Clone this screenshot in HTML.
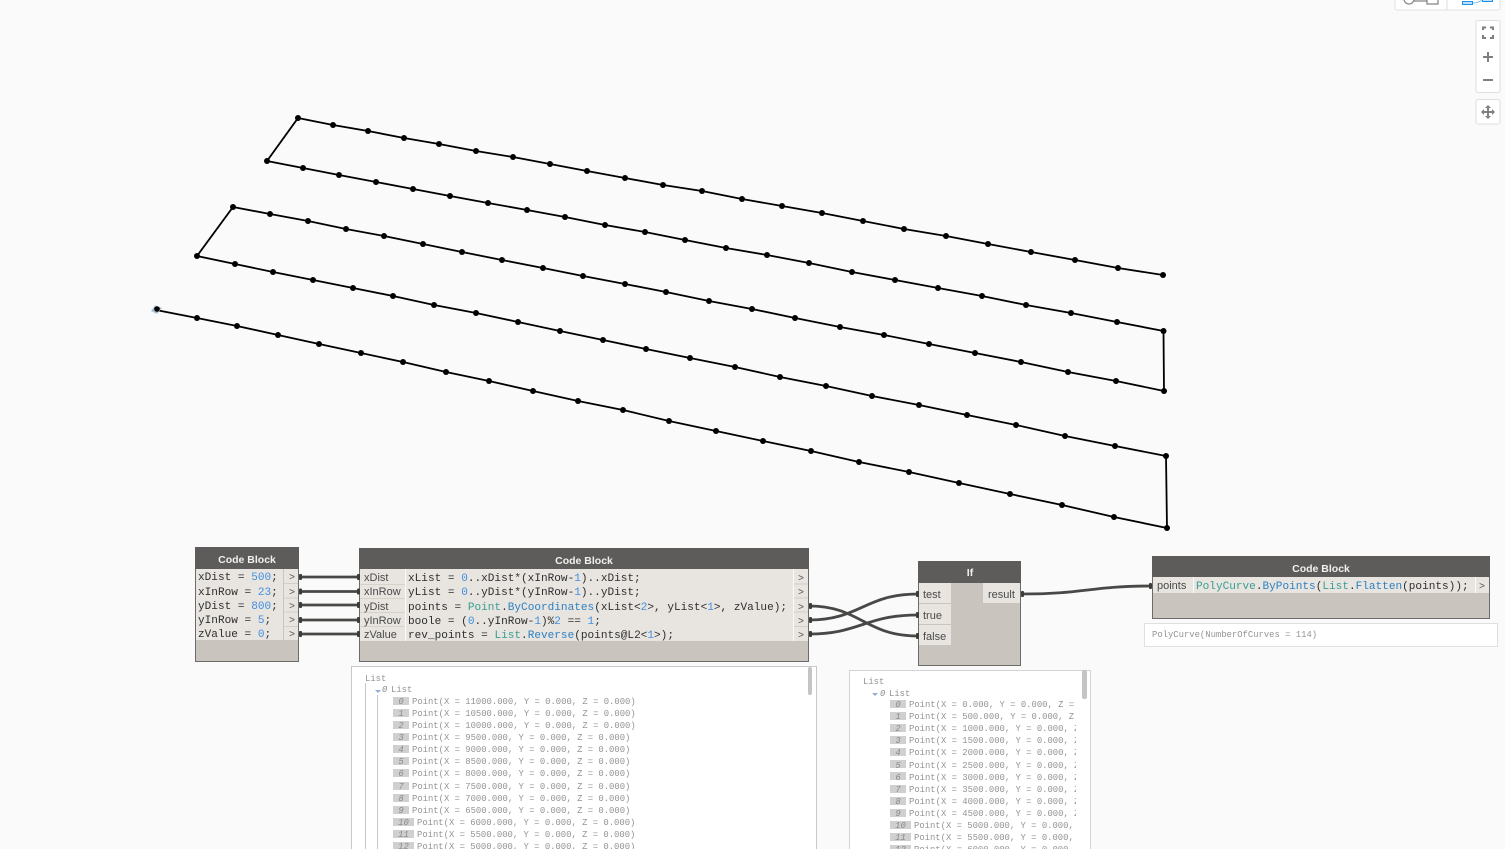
<!DOCTYPE html>
<html>
<head>
<meta charset="utf-8">
<style>
html,body{margin:0;padding:0;background:#fafafa;overflow:hidden}
svg{display:block;position:absolute;left:0;top:0}
.code{font-family:"Liberation Mono",monospace;font-size:11.08px;fill:#2e2e2e}
.num{fill:#3f8fe0}
.cls{fill:#3b9c90}
.port{font-family:"Liberation Sans",sans-serif;font-size:11px;fill:#4a4a4a}
.title{font-family:"Liberation Sans",sans-serif;font-size:10.5px;font-weight:bold;fill:#f0f0f0;text-anchor:middle}
.arrow{font-family:"Liberation Mono",monospace;font-size:10px;fill:#555;text-anchor:middle}
.pv{font-family:"Liberation Mono",monospace;font-size:8.88px;fill:#949494}
.idx{font-family:"Liberation Mono",monospace;font-size:8.88px;font-style:italic;fill:#8a8a8a}
.box{fill:#d0d0d0}
.wire{fill:none;stroke:#484846;stroke-width:2.8}
.nub{fill:#3c3c3a}
</style>
</head>
<body>
<svg width="1505" height="849" viewBox="0 0 1505 849" xmlns="http://www.w3.org/2000/svg">
<defs>
<marker id="d" markerUnits="userSpaceOnUse" markerWidth="8" markerHeight="8" refX="4" refY="4"><circle cx="4" cy="4" r="3" fill="#000"/></marker>
<clipPath id="c1"><rect x="353" y="667" width="463" height="182"/></clipPath>
<clipPath id="c2"><rect x="851" y="671" width="225" height="178"/></clipPath>
</defs>
<rect width="1505" height="849" fill="#fafafa"/>

<polyline fill="none" stroke="#000" stroke-width="1.8" marker-start="url(#d)" marker-mid="url(#d)" marker-end="url(#d)" points="1163,275 1118,268 1075,260 1031,252 988,244 946,236 904,229 863,221 822,213 782,206 742,199 702,191 663,185 625,178 587,171 550,164 513,157 476,151 439,144 404,138 368,131 333,125 298,118 267,161 303,168 339,175 376,182 413,189 450,196 488,203 527,210 565,217 605,225 645,232 685,240 726,248 767,255 809,263 852,272 895,280 938,288 982,296 1026,305 1071,313 1117,322 1163.500,331 1164,391 1116,381 1068,372 1021,362 975,353 929,344 884,335 840,327 795,318 752,309 709,301 666,292 625,284 583,276 543,268 502,260 462,252 423,244 384,236 346,229 308,221 270,214 233,207 197,256 235,264 273,272 313,280 353,288 393,296 434,305 476,313 518,322 560,331 603,340 646,349 690,358 735,367 780,377 826,386 872,396 919,405 967,415 1016,425 1065,436 1115,446 1166,456 1167,528 1114,517 1062,505 1010,494 959,483 909,472 859,462 811,451 763,441 716,431 669,421 623,410 578,401 533,391 489,381 446,372 403,362 361,353 319,344 278,335 237,326 197,318 156,310"/>
<path d="M151 311 L155 305.500 L162 308 L157 314 Z" fill="#a9bfcf"/>
<circle cx="157" cy="309" r="2.8" fill="#000"/>

<!-- toolbar -->
<rect x="1395" y="-4" width="105" height="14" rx="2" fill="#fff" stroke="#e2e2e2"/>
<line x1="1447" y1="0" x2="1447" y2="10" stroke="#ddd"/>
<circle cx="1409" cy="-1" r="5" fill="none" stroke="#888" stroke-width="1.3"/>
<line x1="1414" y1="1" x2="1427" y2="1" stroke="#888" stroke-width="1.3"/>
<rect x="1427" y="-4" width="11" height="8" fill="none" stroke="#888" stroke-width="1.3"/>
<rect x="1462.500" y="1.500" width="10" height="3" fill="#bfe0fb" stroke="#1e90e8"/>
<rect x="1482.500" y="-4" width="10" height="5.500" fill="#bfe0fb" stroke="#1e90e8"/>
<path d="M1473 3 Q1478 3 1482 0" fill="none" stroke="#7fc0f0"/>
<rect x="1476" y="20.500" width="24" height="72" rx="2" fill="#fff" stroke="#dedede"/>
<rect x="1476" y="99.500" width="24" height="24.500" rx="2" fill="#fff" stroke="#dedede"/>
<path d="M1483 30V27.500H1486M1490 27.500H1493V30M1493 35V38H1490M1486 38H1483V35" fill="none" stroke="#808080" stroke-width="2"/>
<path d="M1483 57H1493M1488 52V62" stroke="#808080" stroke-width="2"/>
<path d="M1483 80H1493" stroke="#808080" stroke-width="2"/>
<path d="M1488 106V118M1482 112H1494" stroke="#808080" stroke-width="2"/>
<path d="M1488 105l-3 3h6zM1488 119l-3-3h6zM1481 112l3-3v6zM1495 112l-3-3v6z" fill="#808080"/>

<!-- wires -->
<g class="wire">
<path d="M300 577H359"/><path d="M300 591.500H359"/><path d="M300 605H359"/><path d="M300 620H359"/><path d="M300 634H359"/>
<path d="M809 606C860 606 865 636 918 636"/>
<path d="M809 620C860 620 865 594 918 594"/>
<path d="M809 634C860 634 865 615 918 615"/>
<path d="M1022 594C1085 594 1090 586 1152 586"/>
</g>

<!-- node 1 -->
<rect x="195.500" y="547.500" width="103" height="114" fill="#c9c5be" stroke="#6c6b67"/>
<rect x="195" y="547" width="104" height="22" fill="#5e5c5a"/>
<rect x="196" y="569" width="87" height="71" fill="#e8e5e1"/>
<rect x="284" y="569" width="14" height="71" fill="#e8e5e1"/>
<path d="M284 583.500H298M284 598H298M284 612H298M284 626.500H298" stroke="#d2cfc9"/>
<text class="title" x="247" y="563">Code Block</text>
<text class="code" x="198" y="580">xDist = <tspan class="num">500</tspan>;</text>
<text class="code" x="198" y="595">xInRow = <tspan class="num">23</tspan>;</text>
<text class="code" x="198" y="609">yDist = <tspan class="num">800</tspan>;</text>
<text class="code" x="198" y="623">yInRow = <tspan class="num">5</tspan>;</text>
<text class="code" x="198" y="637">zValue = <tspan class="num">0</tspan>;</text>
<g class="arrow"><text x="292" y="580">&gt;</text><text x="292" y="595">&gt;</text><text x="292" y="609">&gt;</text><text x="292" y="623">&gt;</text><text x="292" y="637">&gt;</text></g>
<g class="nub"><rect x="299" y="574" width="3" height="6" rx="1"/><rect x="299" y="588.500" width="3" height="6" rx="1"/><rect x="299" y="602" width="3" height="6" rx="1"/><rect x="299" y="617" width="3" height="6" rx="1"/><rect x="299" y="631" width="3" height="6" rx="1"/></g>

<!-- node 2 -->
<rect x="359.500" y="548.500" width="449" height="113" fill="#c9c5be" stroke="#6c6b67"/>
<rect x="359" y="548" width="450" height="21" fill="#5e5c5a"/>
<rect x="360" y="569" width="448" height="72" fill="#e8e5e1"/>
<path d="M360 584.500H405M360 598.500H405M360 612.500H405M360 626.500H405" stroke="#d5d2cc"/>
<path d="M405.500 569V641M793.500 569V641" stroke="#fafafa"/>
<path d="M794 584H808M794 598H808M794 612H808M794 626.500H808" stroke="#d2cfc9"/>
<text class="title" x="584" y="564">Code Block</text>
<g class="port" style="fill:#555">
<text class="port" x="364" y="581">xDist</text>
<text class="port" x="364" y="595">xInRow</text>
<text class="port" x="364" y="610">yDist</text>
<text class="port" x="364" y="624">yInRow</text>
<text class="port" x="364" y="638">zValue</text>
</g>
<text class="code" x="408" y="581">xList = <tspan class="num">0</tspan>..xDist*(xInRow-<tspan class="num">1</tspan>)..xDist;</text>
<text class="code" x="408" y="595">yList = <tspan class="num">0</tspan>..yDist*(yInRow-<tspan class="num">1</tspan>)..yDist;</text>
<text class="code" x="408" y="610">points = <tspan class="cls">Point</tspan>.<tspan fill="#2d7fc0">ByCoordinates</tspan>(xList&lt;<tspan class="num">2</tspan>&gt;, yList&lt;<tspan class="num">1</tspan>&gt;, zValue);</text>
<text class="code" x="408" y="624">boole = (<tspan class="num">0</tspan>..yInRow-<tspan class="num">1</tspan>)%<tspan class="num">2</tspan> == <tspan class="num">1</tspan>;</text>
<text class="code" x="408" y="638">rev_points = <tspan class="cls">List</tspan>.<tspan fill="#2d7fc0">Reverse</tspan>(points@L2&lt;<tspan class="num">1</tspan>&gt;);</text>
<g class="arrow"><text x="801" y="581">&gt;</text><text x="801" y="595">&gt;</text><text x="801" y="610">&gt;</text><text x="801" y="624">&gt;</text><text x="801" y="638">&gt;</text></g>
<g class="nub"><rect x="357" y="574" width="3" height="6" rx="1"/><rect x="357" y="588.500" width="3" height="6" rx="1"/><rect x="357" y="602" width="3" height="6" rx="1"/><rect x="357" y="617" width="3" height="6" rx="1"/><rect x="357" y="631" width="3" height="6" rx="1"/><rect x="809" y="603" width="3" height="6" rx="1"/><rect x="809" y="617" width="3" height="6" rx="1"/><rect x="809" y="631" width="3" height="6" rx="1"/></g>

<!-- If -->
<rect x="918.500" y="561.500" width="102" height="104" fill="#c9c5be" stroke="#6c6b67"/>
<rect x="918" y="561" width="103" height="22" fill="#5e5c5a"/>
<rect x="919" y="583" width="32" height="20" fill="#e8e5e1"/>
<rect x="919" y="604" width="32" height="20" fill="#e8e5e1"/>
<rect x="919" y="625" width="32" height="20" fill="#e8e5e1"/>
<rect x="983" y="583" width="37" height="20" fill="#e8e5e1"/>
<text class="title" x="970" y="576">If</text>
<text class="port" x="923" y="598">test</text>
<text class="port" x="923" y="619">true</text>
<text class="port" x="923" y="640">false</text>
<text class="port" x="988" y="598">result</text>
<g class="nub"><rect x="916" y="591" width="3" height="6" rx="1"/><rect x="916" y="612" width="3" height="6" rx="1"/><rect x="916" y="633" width="3" height="6" rx="1"/><rect x="1021" y="591" width="3" height="6" rx="1"/></g>

<!-- node 3 -->
<rect x="1152.500" y="556.500" width="337" height="62" fill="#c9c5be" stroke="#6c6b67"/>
<rect x="1152" y="556" width="338" height="21" fill="#5e5c5a"/>
<rect x="1153" y="577" width="336" height="16" fill="#e8e5e1"/>
<path d="M1193.500 577V593M1475.500 577V593" stroke="#fafafa"/>
<text class="title" x="1321" y="572">Code Block</text>
<text class="port" x="1157" y="589">points</text>
<text class="code" x="1196" y="589"><tspan class="cls">PolyCurve</tspan>.<tspan fill="#2d7fc0">ByPoints</tspan>(<tspan class="cls">List</tspan>.<tspan fill="#2d7fc0">Flatten</tspan>(points));</text>
<text class="arrow" x="1482" y="589">&gt;</text>
<rect class="nub" x="1149" y="583" width="3" height="6" rx="1"/>

<!-- preview 3 -->
<rect x="1144.500" y="623.500" width="353" height="23" fill="#fff" stroke="#e0e0e0"/>
<text class="pv" x="1152" y="637">PolyCurve(NumberOfCurves = 114)</text>

<!-- list 1 -->
<rect x="351.500" y="666.500" width="465" height="200" fill="#fff" stroke="#c8c8c8"/>
<rect x="808" y="667" width="4" height="28" rx="2" fill="#c4c4c4"/>
<path d="M365.500 683V849M377.500 695V849" stroke="#c8c8c8"/>
<path d="M375 690h6l-3 3z" fill="#8fb0d0"/>
<g clip-path="url(#c1)">
<text class="pv" x="365" y="681">List</text>
<text class="idx" x="382" y="692">0</text>
<text class="pv" x="391" y="692">List</text>
<g class="box">
<rect x="393" y="697" width="16" height="8"/><rect x="393" y="709" width="16" height="8"/><rect x="393" y="721" width="16" height="8"/><rect x="393" y="733" width="16" height="8"/><rect x="393" y="745" width="16" height="8"/><rect x="393" y="757" width="16" height="8"/><rect x="393" y="769" width="16" height="8"/><rect x="393" y="782" width="16" height="8"/><rect x="393" y="794" width="16" height="8"/><rect x="393" y="806" width="16" height="8"/><rect x="393" y="818" width="21" height="8"/><rect x="393" y="830" width="21" height="8"/><rect x="393" y="842" width="21" height="8"/>
</g>
<g class="idx" text-anchor="middle">
<text x="401" y="704">0</text><text x="401" y="716">1</text><text x="401" y="728">2</text><text x="401" y="740">3</text><text x="401" y="752">4</text><text x="401" y="764">5</text><text x="401" y="776">6</text><text x="401" y="789">7</text><text x="401" y="801">8</text><text x="401" y="813">9</text><text x="403.500" y="825">10</text><text x="403.500" y="837">11</text><text x="403.500" y="849">12</text>
</g>
<text class="pv" x="412" y="704">Point(X = 11000.000, Y = 0.000, Z = 0.000)</text>
<text class="pv" x="412" y="716">Point(X = 10500.000, Y = 0.000, Z = 0.000)</text>
<text class="pv" x="412" y="728">Point(X = 10000.000, Y = 0.000, Z = 0.000)</text>
<text class="pv" x="412" y="740">Point(X = 9500.000, Y = 0.000, Z = 0.000)</text>
<text class="pv" x="412" y="752">Point(X = 9000.000, Y = 0.000, Z = 0.000)</text>
<text class="pv" x="412" y="764">Point(X = 8500.000, Y = 0.000, Z = 0.000)</text>
<text class="pv" x="412" y="776">Point(X = 8000.000, Y = 0.000, Z = 0.000)</text>
<text class="pv" x="412" y="789">Point(X = 7500.000, Y = 0.000, Z = 0.000)</text>
<text class="pv" x="412" y="801">Point(X = 7000.000, Y = 0.000, Z = 0.000)</text>
<text class="pv" x="412" y="813">Point(X = 6500.000, Y = 0.000, Z = 0.000)</text>
<text class="pv" x="417" y="825">Point(X = 6000.000, Y = 0.000, Z = 0.000)</text>
<text class="pv" x="417" y="837">Point(X = 5500.000, Y = 0.000, Z = 0.000)</text>
<text class="pv" x="417" y="849">Point(X = 5000.000, Y = 0.000, Z = 0.000)</text>
</g>

<!-- list 2 -->
<rect x="849.500" y="670.500" width="241" height="200" fill="#fff" stroke="#d4d4d4"/>
<rect x="1082" y="670" width="5" height="29" rx="2" fill="#c4c4c4"/>
<path d="M872 693h6l-3 3z" fill="#8fb0d0"/>
<g clip-path="url(#c2)">
<text class="pv" x="863" y="684">List</text>
<text class="idx" x="880" y="696">0</text>
<text class="pv" x="889" y="696">List</text>
<g class="box">
<rect x="890" y="700" width="16" height="8"/><rect x="890" y="712" width="16" height="8"/><rect x="890" y="724" width="16" height="8"/><rect x="890" y="736" width="16" height="8"/><rect x="890" y="748" width="16" height="8"/><rect x="890" y="760" width="16" height="8"/><rect x="890" y="772" width="16" height="8"/><rect x="890" y="785" width="16" height="8"/><rect x="890" y="797" width="16" height="8"/><rect x="890" y="809" width="16" height="8"/><rect x="890" y="821" width="21" height="8"/><rect x="890" y="833" width="21" height="8"/><rect x="890" y="845" width="21" height="8"/>
</g>
<g class="idx" text-anchor="middle">
<text x="898" y="707">0</text><text x="898" y="719">1</text><text x="898" y="731">2</text><text x="898" y="743">3</text><text x="898" y="755">4</text><text x="898" y="768">5</text><text x="898" y="780">6</text><text x="898" y="792">7</text><text x="898" y="804">8</text><text x="898" y="816">9</text><text x="900.500" y="828">10</text><text x="900.500" y="840">11</text><text x="900.500" y="852">12</text>
</g>
<text class="pv" x="909" y="707">Point(X = 0.000, Y = 0.000, Z = 0.000)</text>
<text class="pv" x="909" y="719">Point(X = 500.000, Y = 0.000, Z = 0.000)</text>
<text class="pv" x="909" y="731">Point(X = 1000.000, Y = 0.000, Z = 0.000)</text>
<text class="pv" x="909" y="743">Point(X = 1500.000, Y = 0.000, Z = 0.000)</text>
<text class="pv" x="909" y="755">Point(X = 2000.000, Y = 0.000, Z = 0.000)</text>
<text class="pv" x="909" y="768">Point(X = 2500.000, Y = 0.000, Z = 0.000)</text>
<text class="pv" x="909" y="780">Point(X = 3000.000, Y = 0.000, Z = 0.000)</text>
<text class="pv" x="909" y="792">Point(X = 3500.000, Y = 0.000, Z = 0.000)</text>
<text class="pv" x="909" y="804">Point(X = 4000.000, Y = 0.000, Z = 0.000)</text>
<text class="pv" x="909" y="816">Point(X = 4500.000, Y = 0.000, Z = 0.000)</text>
<text class="pv" x="914" y="828">Point(X = 5000.000, Y = 0.000, Z = 0.000)</text>
<text class="pv" x="914" y="840">Point(X = 5500.000, Y = 0.000, Z = 0.000)</text>
<text class="pv" x="914" y="852">Point(X = 6000.000, Y = 0.000, Z = 0.000)</text>
</g>
</svg>
</body>
</html>
